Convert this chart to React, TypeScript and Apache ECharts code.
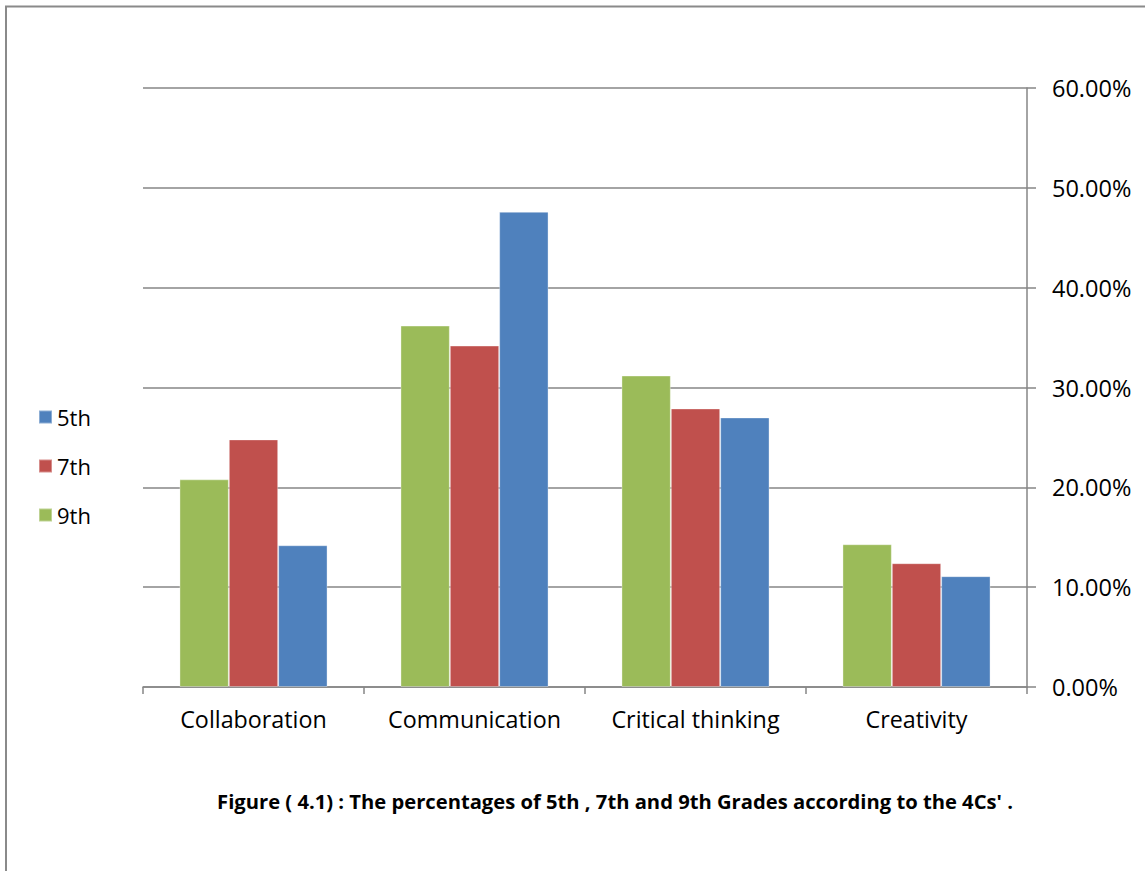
import React, { useEffect, useRef } from "react";
import * as echarts from "echarts";

const categories = ["Collaboration", "Communication", "Critical thinking", "Creativity"];
const grade9 = [20.8, 36.2, 31.2, 14.3];
const grade7 = [24.8, 34.2, 27.9, 12.4];
const grade5 = [14.2, 47.6, 27.0, 11.1];
const caption = "Figure ( 4.1) : The percentages of 5th , 7th and 9th Grades according to the 4Cs' .";

const FONT = "'Open Sans', 'Noto Sans', sans-serif";

export default function App() {
  const ref = useRef<HTMLDivElement>(null);

  useEffect(() => {
    if (!ref.current) return;
    const chart = echarts.init(ref.current, undefined, { renderer: "svg" });
    const barStyle = (color: string) => ({
      color,
      borderColor: "rgba(255,255,255,0.35)",
      borderWidth: 1,
    });
    chart.setOption({
      animation: false,
      backgroundColor: "#ffffff",
      textStyle: { fontFamily: FONT },
      grid: { left: 143, right: 118, top: 88, bottom: 184 },
      legend: {
        orient: "vertical",
        left: 33,
        top: 401,
        itemWidth: 13,
        itemHeight: 13,
        itemGap: 27,
        icon: "rect",
        data: ["5th", "7th", "9th"],
        textStyle: { fontFamily: FONT, fontSize: 22, color: "#000" },
      },
      xAxis: {
        type: "category",
        data: categories,
        axisLine: { lineStyle: { color: "#868686", width: 1.5 } },
        axisTick: { show: true, interval: 0, length: 7, lineStyle: { color: "#868686", width: 1.5 } },
        axisLabel: { interval: 0, fontFamily: FONT, fontSize: 23.3, color: "#000", margin: 20 },
      },
      yAxis: {
        type: "value",
        position: "right",
        min: 0,
        max: 60,
        interval: 10,
        axisLine: { show: true, lineStyle: { color: "#868686", width: 1.5 } },
        axisTick: { show: true, inside: false, length: 9, lineStyle: { color: "#868686", width: 1.5 } },
        splitLine: { lineStyle: { color: "#868686", width: 1.5 } },
        axisLabel: {
          fontFamily: FONT,
          fontSize: 23.5,
          color: "#000",
          margin: 25,
          formatter: (v: number) => v.toFixed(2) + "%",
        },
      },
      series: [
        { name: "9th", type: "bar", data: grade9, barGap: "0%", barCategoryGap: "33%", itemStyle: barStyle("#9BBB59") },
        { name: "7th", type: "bar", data: grade7, barGap: "0%", barCategoryGap: "33%", itemStyle: barStyle("#C0504D") },
        { name: "5th", type: "bar", data: grade5, barGap: "0%", barCategoryGap: "33%", itemStyle: barStyle("#4F81BD") },
      ],
      graphic: [
        {
          type: "rect",
          shape: { x: 6, y: 6.5, width: 1300, height: 1000 },
          style: { fill: "none", stroke: "#8a8a8a", lineWidth: 2 },
          silent: true,
        },
        {
          type: "text",
          x: 615,
          y: 801,
          style: {
            text: caption,
            fontFamily: FONT,
            fontSize: 20.2,
            fontWeight: "bold",
            fill: "#000",
            align: "center",
            verticalAlign: "middle",
          },
        },
      ],
    });
    return () => chart.dispose();
  }, []);

  return (
    <div
      ref={ref}
      style={{ position: "absolute", left: 0, top: 0, width: 1145, height: 871 }}
    />
  );
}
